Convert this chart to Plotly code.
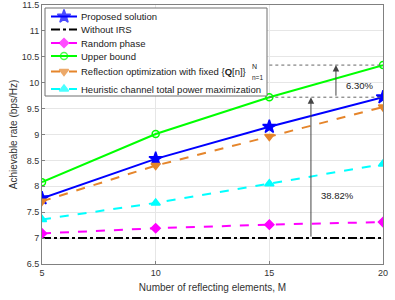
import plotly.graph_objects as go

M = [5, 10, 15, 20]
proposed = [7.77, 8.53, 9.15, 9.72]
without_irs = [7.0, 7.0, 7.0, 7.0]
random_phase = [7.09, 7.19, 7.26, 7.31]
upper_bound = [8.08, 9.01, 9.72, 10.34]
fixed_q = [7.71, 8.40, 8.96, 9.53]
heuristic = [7.36, 7.68, 8.05, 8.43]

y_ticks = [6.5, 7, 7.5, 8, 8.5, 9, 9.5, 10, 10.5, 11, 11.5]
x_ticks = [5, 10, 15, 20]

names = ["Proposed solution", "Without IRS", "Random phase", "Upper bound",
         "Reflection optimization with fixed {<b>Q</b>[n]}",
         "Heuristic channel total power maximization"]
series = [proposed, without_irs, random_phase, upper_bound, fixed_q, heuristic]
colors = ["#0000FF", "#000000", "#FF00FF", "#00FF00", "#E5852B", "#00FFFF"]
dashes = ["solid", "dashdot", "dash", "solid", "dash", "dash"]
symbols = ["star", None, "diamond", "circle-open", "triangle-down", "triangle-up"]
msizes = [10, 0, 7, 7, 8, 8]

FONT = "Liberation Sans, Arial, sans-serif"
W, H = 395, 300
L, R, T, B = 42, 12, 5, 36

fig = go.Figure()

# data traces
for nm, y, c, d, s, ms in zip(names, series, colors, dashes, symbols, msizes):
    fig.add_trace(go.Scatter(
        x=M, y=y, name=nm, mode="lines+markers" if s else "lines",
        line=dict(color=c, dash=d, width=2),
        marker=dict(symbol=s or "circle", size=ms, color=c, line=dict(color=c, width=1.5)),
        showlegend=False, xaxis="x", yaxis="y"))

# dotted reference lines
for lvl in (upper_bound[2], upper_bound[3]):
    fig.add_shape(type="line", x0=M[2], x1=M[3], y0=lvl, y1=lvl, xref="x", yref="y",
                  line=dict(color="#666666", width=1, dash="dot"))

# arrows and percentages
ax1, ax2 = 16.83, 17.93
fig.add_annotation(x=ax1, y=proposed[3], ax=ax1, ay=without_irs[3], xref="x", yref="y",
                   axref="x", ayref="y", showarrow=True, arrowhead=2, arrowsize=1.3,
                   arrowwidth=1, arrowcolor="#444444", text="")
fig.add_annotation(x=ax2, y=upper_bound[3], ax=ax2, ay=proposed[3], xref="x", yref="y",
                   axref="x", ayref="y", showarrow=True, arrowhead=2, arrowsize=1.3,
                   arrowwidth=1, arrowcolor="#444444", text="")
fig.add_annotation(x=17.2, y=7.83, text="38.82%", showarrow=False, xanchor="left",
                   font=dict(size=9.5, color="#222222", family=FONT))
fig.add_annotation(x=18.28, y=9.95, text="6.30%", showarrow=False, xanchor="left",
                   font=dict(size=9.5, color="#222222", family=FONT))

# ---- custom legend on a pixel-unit overlay axis ----
box = dict(x0=45, x1=267, y0=8, y1=96)
fig.add_trace(go.Scatter(
    x=[box["x0"], box["x1"], box["x1"], box["x0"], box["x0"]],
    y=[box["y0"], box["y0"], box["y1"], box["y1"], box["y0"]],
    mode="lines", fill="toself", fillcolor="white",
    line=dict(color="#707070", width=1), showlegend=False, hoverinfo="skip",
    xaxis="x2", yaxis="y2"))
row_y = [16.5, 29.5, 43, 56, 71.5, 89]
sx0, sx1 = 51, 77
for nm, c, d, s, ms, ry in zip(names, colors, dashes, symbols, msizes, row_y):
    fig.add_trace(go.Scatter(
        x=[sx0, (sx0 + sx1) / 2, sx1], y=[ry, ry, ry],
        mode="lines+markers" if s else "lines",
        line=dict(color=c, dash=d, width=2),
        marker=dict(symbol=s or "circle", size=[0, ms, 0], color=c,
                    line=dict(color=c, width=1.5)),
        showlegend=False, hoverinfo="skip", xaxis="x2", yaxis="y2"))
    fig.add_annotation(x=79, y=ry, xref="x2", yref="y2", text=nm, showarrow=False,
                       xanchor="left", yanchor="middle",
                       font=dict(size=9.5, color="#1A1A1A", family=FONT))
fig.add_annotation(x=249.5, y=row_y[4] - 5.5, xref="x2", yref="y2", text="N",
                   showarrow=False, xanchor="left", yanchor="middle",
                   font=dict(size=7, color="#1A1A1A", family=FONT))
fig.add_annotation(x=249.5, y=row_y[4] + 6, xref="x2", yref="y2", text="n=1",
                   showarrow=False, xanchor="left", yanchor="middle",
                   font=dict(size=6.5, color="#1A1A1A", family=FONT))

axis_common = dict(showline=True, mirror=True, linecolor="#808080", linewidth=1,
                   ticks="inside", ticklen=3, tickcolor="#808080", automargin=False,
                   showgrid=True, gridcolor="#E6E6E6", gridwidth=1, zeroline=False,
                   tickfont=dict(size=9, color="#333333", family=FONT))

fig.update_layout(
    width=W, height=H,
    margin=dict(l=L, r=R, t=T, b=B, pad=0),
    paper_bgcolor="white", plot_bgcolor="white",
    font=dict(family=FONT, size=9, color="#333333"),
    showlegend=False, hovermode=False,
    xaxis=dict(range=[5, 20], tickvals=x_ticks,
               title=dict(text="Number of reflecting elements, M", standoff=7,
                          font=dict(size=10, color="#333333", family=FONT)),
               **axis_common),
    yaxis=dict(range=[6.5, 11.5], tickvals=y_ticks,
               ticktext=[("%g" % v) for v in y_ticks],
               title=dict(text="Achievable rate (bps/Hz)", standoff=2,
                          font=dict(size=10, color="#333333", family=FONT)),
               **axis_common),
    xaxis2=dict(overlaying="x", range=[L, W - R], visible=False, fixedrange=True),
    yaxis2=dict(overlaying="y", range=[H - B, T], visible=False, fixedrange=True),
)

fig.write_html("out.html", config={"displayModeBar": False, "staticPlot": True},
               post_script="document.body.style.margin='0';document.body.style.overflow='hidden';")
